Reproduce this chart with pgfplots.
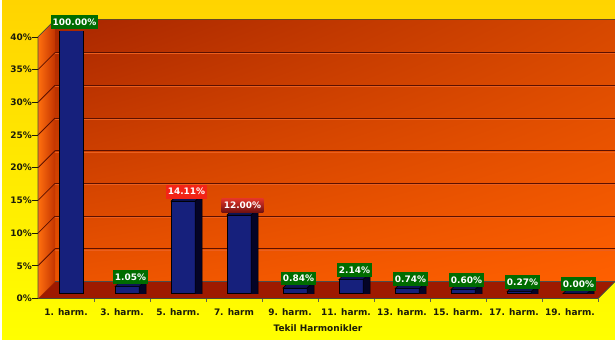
\documentclass[border=0pt]{standalone}
\usepackage{pgfplots}
\pgfplotsset{compat=1.18}
\usetikzlibrary{shadings}
\usepackage{fontspec}
\setmainfont{DejaVu Sans}

\definecolor{gold}{RGB}{255,212,0}
\definecolor{yel}{RGB}{255,255,0}
\definecolor{wallUL}{RGB}{168,38,0}
\definecolor{wallUR}{RGB}{214,72,0}
\definecolor{wallLL}{RGB}{236,84,0}
\definecolor{wallLR}{RGB}{255,96,0}
\definecolor{sideA}{RGB}{255,112,15}
\definecolor{sideB}{RGB}{196,52,0}
\definecolor{floorc}{RGB}{158,26,0}
\definecolor{gridc}{RGB}{92,16,0}
\definecolor{gridl}{RGB}{235,95,30}
\definecolor{barfront}{RGB}{22,32,124}
\definecolor{barside}{RGB}{4,4,38}
\definecolor{bartopc}{RGB}{14,20,84}
\definecolor{lblgreen}{RGB}{0,108,0}
\definecolor{lblred}{RGB}{242,36,22}
\definecolor{lbldarkA}{RGB}{226,52,40}
\definecolor{lbldarkB}{RGB}{110,16,16}
\definecolor{txt}{RGB}{28,28,10}

\pgfdeclareplotmark{bar3d}{%
  \pgfsetstrokecolor{black}%
  \pgfsetlinewidth{0.5bp}%
  \pgfpathmoveto{\pgfpoint{12bp}{0bp}}%
  \pgfpathlineto{\pgfpoint{19bp}{7bp}}%
  \pgfpathlineto{\pgfpoint{19bp}{-300bp}}%
  \pgfpathlineto{\pgfpoint{12bp}{-300bp}}%
  \pgfpathclose
  \pgfsetfillcolor{barside}%
  \pgfusepath{fill,stroke}%
  \pgfpathmoveto{\pgfpoint{-12bp}{0bp}}%
  \pgfpathlineto{\pgfpoint{12bp}{0bp}}%
  \pgfpathlineto{\pgfpoint{19bp}{7bp}}%
  \pgfpathlineto{\pgfpoint{-5bp}{7bp}}%
  \pgfpathclose
  \pgfsetfillcolor{bartopc}%
  \pgfusepath{fill,stroke}%
}

\pgfplotstableread{
x v
1 100.00
2 1.05
3 14.11
4 12.00
5 0.84
6 2.14
7 0.74
8 0.60
9 0.27
10 0.00
}\harm

\begin{document}
\begin{tikzpicture}[x=1bp,y=1bp]
\useasboundingbox (0,0) rectangle (615,342);
\fill[white] (0,0) rectangle (615,342);
\shade[top color=gold, bottom color=yel] (2,3) rectangle (615,341);
% back wall
\shade[upper left=wallUL, upper right=wallUR, lower left=wallLL, lower right=wallLR] (55,60.5) rectangle (615,322.1);
\foreach \k in {5,10,...,35} {
  \draw[gridl, line width=0.8bp] (55,{60.5+\k*6.54-1.2}) -- (615,{60.5+\k*6.54-1.2});
  \draw[gridc, line width=1bp] (55,{60.5+\k*6.54}) -- (615,{60.5+\k*6.54});
}
\draw[black!45!brown, line width=0.8bp] (55,322.1) -- (615,322.1);
% side wall
\shade[left color=sideA, right color=sideB] (38,43.5) -- (55,60.5) -- (55,322.1) -- (38,305.1) -- cycle;
\foreach \k in {5,10,...,35} {
  \draw[gridc, line width=0.8bp] (38,{43.5+\k*6.54}) -- (55,{60.5+\k*6.54});
}
% floor
\fill[floorc] (38,43.5) -- (598,43.5) -- (615,60.5) -- (55,60.5) -- cycle;
\draw[black!40!gray, line width=0.6bp] (55,60.5) -- (615,60.5);
% front edges and ticks
\draw[txt!80, line width=0.8bp] (38,43.5) -- (38,305.1) -- (55,322.1);
\draw[txt!80, line width=0.8bp] (38,43.5) -- (598,43.5) -- (615,60.5);
\foreach \k in {0,5,...,40} { \draw[txt, line width=0.8bp] (32,{43.5+\k*6.54}) -- (38,{43.5+\k*6.54}); }
\foreach \k in {1,...,10} { \draw[txt!70, line width=0.8bp] ({38+56*\k},43.5) -- ({38+56*\k},40); }

\begin{axis}[at={(43bp,48.5bp)}, anchor=south west, scale only axis,
  width=560bp, height=261.6bp,
  xmin=0.5, xmax=10.5, ymin=0, ymax=40,
  axis line style={draw=none}, major tick length=0pt,
  clip marker paths=true,
  ytick={0,5,...,40},
  yticklabels={0\%,5\%,10\%,15\%,20\%,25\%,30\%,35\%,40\%},
  xtick={1,...,10},
  xticklabels={1. harm.,3. harm.,5. harm.,7. harm,9. harm.,11. harm.,13. harm.,15. harm.,17. harm.,19. harm.},
  ticklabel style={font=\fontsize{9}{11}\selectfont\bfseries, text=txt},
  yticklabel style={anchor=east, inner sep=0pt, xshift=-11bp, yshift=-5bp},
  xticklabel style={anchor=north, inner sep=0pt, yshift=-14.5bp, xshift=-5bp},
  xlabel={Tekil Harmonikler},
  xlabel style={at={(axis description cs:0.5,0)}, anchor=center, yshift=-34.5bp, xshift=-5bp,
    font=\fontsize{9}{11}\selectfont\bfseries, text=txt},
]
\addplot[ybar, bar width=24bp, fill=barfront, draw=black, line width=0.5bp, mark=bar3d] table[x=x,y=v]{\harm};
\end{axis}

\begin{axis}[at={(43bp,48.5bp)}, anchor=south west, scale only axis,
  width=560bp, height=261.6bp,
  xmin=0.5, xmax=10.5, ymin=0, ymax=40, hide axis, clip=false,
  every node near coord/.append style={font=\fontsize{9}{11}\selectfont\bfseries, text=white,
     inner xsep=2.2bp, inner ysep=3.5bp, anchor=south, yshift=2.5bp, xshift=3.5bp},
  nodes near coords={\pgfmathprintnumber[fixed,fixed zerofill,precision=2,assume math mode=true]{\pgfplotspointmeta}\%},
]
\addplot[only marks, mark=*, mark size=0pt, mark options={draw=none,fill=none}, point meta=explicit,
  nodes near coords style={fill=lblgreen}]
  coordinates {(1,40) [100.00] (2,1.05) [1.05] (5,0.84) [0.84] (6,2.14) [2.14] (7,0.74) [0.74] (8,0.60) [0.60] (9,0.27) [0.27] (10,0.00) [0.00]};
\addplot[only marks, mark=*, mark size=0pt, mark options={draw=none,fill=none}, point meta=explicit,
  nodes near coords style={fill=lblred}]
  coordinates {(3,14.11) [14.11]};
\addplot[only marks, mark=*, mark size=0pt, mark options={draw=none,fill=none}, point meta=explicit,
  nodes near coords style={top color=lbldarkA, bottom color=lbldarkB}]
  coordinates {(4,12.00) [12.00]};
\end{axis}
\end{tikzpicture}
\end{document}
